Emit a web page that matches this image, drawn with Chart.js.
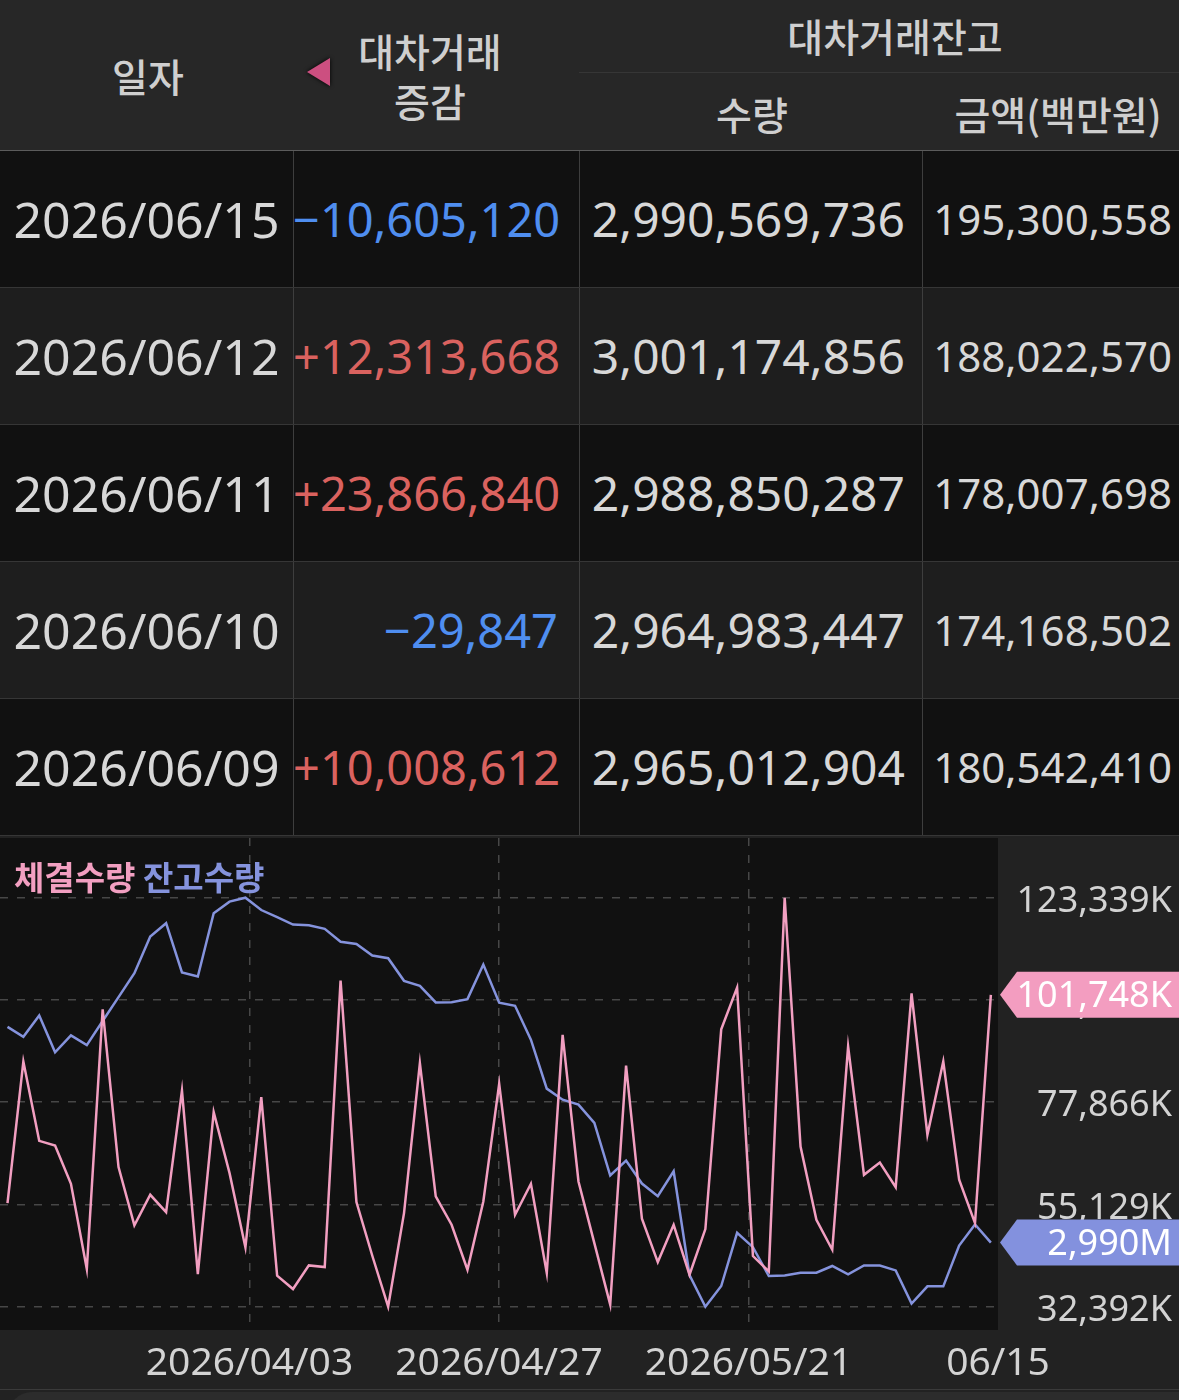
<!DOCTYPE html>
<html>
<head>
<meta charset="utf-8">
<script src="https://cdn.jsdelivr.net/npm/chart.js@4.4.1/dist/chart.umd.min.js"></script>
<style>
html,body{margin:0;padding:0;background:#222;}
#wrap{position:relative;width:1179px;height:1400px;overflow:hidden;background:#222;font-family:"Noto Sans","Noto Sans CJK KR",sans-serif;}
.hdr{position:absolute;left:0;top:0;width:1179px;height:150px;background:#272727;border-bottom:1px solid #5c5c5c;}
.ht{position:absolute;text-align:center;color:#cfcfcf;font-family:"Noto Sans CJK KR","Noto Sans",sans-serif;font-size:39px;font-weight:500;height:50px;line-height:50px;width:400px;white-space:nowrap;}
.subline{position:absolute;left:579px;top:72px;width:600px;height:1px;background:#363636;}
.tri{position:absolute;left:307px;top:58px;width:0;height:0;border-top:14px solid transparent;border-bottom:14px solid transparent;border-right:23px solid #cc4f80;filter:drop-shadow(0 0 2px #000);}
.row{position:absolute;left:0;width:1179px;height:136px;border-bottom:1px solid #363636;}
.cell{position:absolute;top:0;height:136px;line-height:136px;white-space:nowrap;font-family:"Noto Sans",sans-serif;color:#d8d8d8;}
.vl{position:absolute;top:0;width:1px;height:136px;background:#3e3e3e;}
#chartBox{position:absolute;left:0;top:836px;width:1179px;height:554px;}
#legend{position:absolute;left:14px;top:856px;height:40px;line-height:40px;font-family:"Noto Sans CJK KR",sans-serif;font-weight:700;font-size:33px;white-space:nowrap;}
#bottomLine{position:absolute;left:0;top:1389px;width:1179px;height:1px;background:#3a3a3a;}
#sheet{position:absolute;left:8px;top:1392px;width:1190px;height:30px;background:#2c2c2c;border-top-left-radius:24px;}
</style>
</head>
<body>
<div id="wrap">
  <div class="hdr">
    <div class="ht" style="left:-52px;top:50px;">일자</div>
    <div class="tri"></div>
    <div class="ht" style="left:230px;top:25px;">대차거래</div>
    <div class="ht" style="left:230px;top:75px;">증감</div>
    <div class="ht" style="left:695px;top:10px;">대차거래잔고</div>
    <div class="subline"></div>
    <div class="ht" style="left:552px;top:88px;">수량</div>
    <div class="ht" style="left:858px;top:88px;">금액(백만원)</div>
  </div>
  <div id="rows"></div>
  <div id="chartBox"><canvas id="c" width="1179" height="554"></canvas></div>
  <div id="legend"><span style="color:#f29fc1">체결수량</span> <span style="color:#8593dd">잔고수량</span></div>
  <div id="bottomLine"></div>
  <div id="sheet"></div>
</div>
<script>
// ---- table data ----
const dates   = ['2026/06/15','2026/06/12','2026/06/11','2026/06/10','2026/06/09'];
const changes = [-10605120, 12313668, 23866840, -29847, 10008612];
const qty     = [2990569736, 3001174856, 2988850287, 2964983447, 2965012904];
const amount  = [195300558, 188022570, 178007698, 174168502, 180542410];

// ---- chart data ----
// 체결수량 (thousand shares)
const volumeK = [
  55426, 86901, 69275, 68238, 59721, 40762, 98529, 63424, 50464, 57277,
  53426, 80458, 39651, 75644, 62091, 45576, 78977, 39281, 36318, 41577,
  41206, 104898, 55648, 43724, 32392, 53204, 86531, 56907, 50612, 40614,
  55796, 81939, 52834, 59721, 39873, 92826, 60240, 46539, 32838, 86013,
  51945, 42317, 50612, 39503, 49649, 94085, 103343, 43650, 40244, 123339,
  68016, 51723, 45058, 90234, 61721, 64461, 58981, 102084, 70608, 86901,
  60610, 50982, 101748
];
// 잔고수량 (million shares)
const balanceM = [
  3116.7, 3110.9, 3123.4, 3101.8, 3111.7, 3106.0, 3120.1, 3134.1, 3148.1, 3169.5,
  3177.3, 3148.5, 3146.1, 3183.1, 3189.9, 3192.2, 3185.0, 3180.8, 3176.5, 3176.1,
  3174.0, 3166.4, 3165.2, 3158.4, 3156.8, 3143.6, 3140.7, 3131.0, 3131.1, 3132.9,
  3153.1, 3130.8, 3129.0, 3109.2, 3080.6, 3074.1, 3071.2, 3060.5, 3029.8, 3038.5,
  3025.1, 3017.7, 3032.3, 2971.6, 2953.1, 2965.2, 2996.3, 2987.9, 2971.0, 2971.4,
  2973.0, 2973.0, 2976.9, 2972.0, 2977.2, 2977.2, 2974.3, 2954.9, 2965.01, 2964.98,
  2988.85, 3001.17, 2990.57
];
const xTickLabels = ['2026/04/03', '2026/04/27', '2026/05/21', '06/15'];
const seriesNames = ['체결수량', '잔고수량'];

const fmt = n => Number(n).toLocaleString('en-US');

// ---- build table ----
const rowsEl = document.getElementById('rows');
dates.forEach((d, r) => {
  const row = document.createElement('div');
  row.className = 'row';
  row.style.top = (151 + r * 137) + 'px';
  row.style.background = r % 2 === 0 ? '#111111' : '#1e1e1e';
  const ch = changes[r];
  const chTxt = (ch < 0 ? '\u2212' : '+') + fmt(Math.abs(ch));
  const chCol = ch < 0 ? '#4f8ef0' : '#da625f';
  row.innerHTML =
    `<div class="cell" style="left:0;width:293px;text-align:center;font-size:50px;">${d}</div>` +
    `<div class="vl" style="left:293px"></div>` +
    `<div class="cell" style="left:293px;width:265px;text-align:right;font-size:47px;color:${chCol}">${chTxt}</div>` +
    `<div class="vl" style="left:579px"></div>` +
    `<div class="cell" style="left:579px;width:326px;text-align:right;font-size:48px;">${fmt(qty[r])}</div>` +
    `<div class="vl" style="left:922px"></div>` +
    `<div class="cell" style="left:922px;width:250px;text-align:right;font-size:42px;">${fmt(amount[r])}</div>`;
  rowsEl.appendChild(row);
});

// ---- chart ----
const PAD_TOP = 0.146, PAD_BOT = 0.057;
function padded(arr) {
  const mn = Math.min(...arr), mx = Math.max(...arr), r = mx - mn;
  return { dmin: mn, dmax: mx, min: mn - PAD_BOT * r, max: mx + PAD_TOP * r };
}
const pv = padded(volumeK), pb = padded(balanceM);
const XMIN = -0.473, XMAX = volumeK.length - 1 + 0.45;
const Y_DIV = 4;

const bgPlugin = {
  id: 'bg',
  beforeDraw(chart) {
    const { ctx, chartArea: a, width, height } = chart;
    ctx.save();
    ctx.fillStyle = '#222222';
    ctx.fillRect(0, 0, width, height);
    ctx.fillStyle = '#111111';
    ctx.fillRect(a.left, a.top, a.right - a.left, a.bottom - a.top);
    ctx.restore();
  }
};
const badgePlugin = {
  id: 'badges',
  afterDraw(chart) {
    const { ctx, chartArea: a, width } = chart;
    chart.data.datasets.forEach(ds => {
      const scale = chart.scales[ds.yAxisID];
      const last = ds.data[ds.data.length - 1].y;
      const y = scale.getPixelForValue(last);
      ctx.save();
      ctx.fillStyle = ds.badgeColor;
      ctx.beginPath();
      ctx.moveTo(a.right + 2, y);
      ctx.lineTo(a.right + 19, y - 23);
      ctx.lineTo(width, y - 23);
      ctx.lineTo(width, y + 23);
      ctx.lineTo(a.right + 19, y + 23);
      ctx.closePath();
      ctx.fill();
      ctx.fillStyle = '#ffffff';
      ctx.font = '36px "Noto Sans"';
      ctx.textAlign = 'right';
      ctx.textBaseline = 'middle';
      ctx.fillText(ds.badgeText(last), width - 7, y + 2);
      ctx.restore();
    });
  }
};

new Chart(document.getElementById('c'), {
  type: 'line',
  data: {
    datasets: [
      {
        label: seriesNames[0],
        data: volumeK.map((v, i) => ({ x: i, y: v })),
        borderColor: '#f29fc1', borderWidth: 2.5, pointRadius: 0, tension: 0,
        yAxisID: 'y', badgeColor: '#f39dc0', badgeText: v => fmt(v) + 'K'
      },
      {
        label: seriesNames[1],
        data: balanceM.map((v, i) => ({ x: i, y: v })),
        borderColor: '#8593dd', borderWidth: 2.5, pointRadius: 0, tension: 0,
        yAxisID: 'y2', badgeColor: '#8391de', badgeText: v => fmt(Math.floor(v)) + 'M'
      }
    ]
  },
  options: {
    responsive: false,
    animation: false,
    layout: { padding: { top: 2, left: 0, right: 7, bottom: 0 } },
    plugins: { legend: { display: false }, tooltip: { enabled: false } },
    scales: {
      x: {
        type: 'linear', min: XMIN, max: XMAX,
        afterBuildTicks: s => {
          s.ticks = xTickLabels.map((_, k) => ({ value: XMIN + (k + 1) * (XMAX - XMIN) / xTickLabels.length }));
        },
        ticks: {
          autoSkip: false, maxRotation: 0, color: '#d3d3d3', padding: 10,
          font: { family: 'Noto Sans', size: 39 },
          callback: (v, i) => xTickLabels[i]
        },
        grid: {
          color: c => (c.index === xTickLabels.length - 1 ? 'rgba(0,0,0,0)' : '#474747'),
          lineWidth: 1.5, drawTicks: false
        },
        border: { display: false, dash: [8, 9] },
        afterFit: s => { s.height = 60; s.paddingLeft = 0; s.paddingRight = 0; }
      },
      y: {
        position: 'right', min: pv.min, max: pv.max,
        afterBuildTicks: s => {
          const t = [];
          for (let k = 0; k <= Y_DIV; k++) t.push({ value: pv.dmin + k * (pv.dmax - pv.dmin) / Y_DIV });
          s.ticks = t;
        },
        ticks: {
          color: '#d3d3d3', padding: 11, crossAlign: 'far', labelOffset: 4,
          font: { family: 'Noto Sans', size: 36 },
          callback: v => fmt(Math.round(v)) + 'K'
        },
        grid: { color: '#474747', lineWidth: 1.5, drawTicks: false },
        border: { display: false, dash: [8, 9] },
        afterFit: s => { s.width = 174; s.paddingTop = 0; s.paddingBottom = 0; }
      },
      y2: { display: false, min: pb.min, max: pb.max }
    }
  },
  plugins: [bgPlugin, badgePlugin]
});
</script>
</body>
</html>
